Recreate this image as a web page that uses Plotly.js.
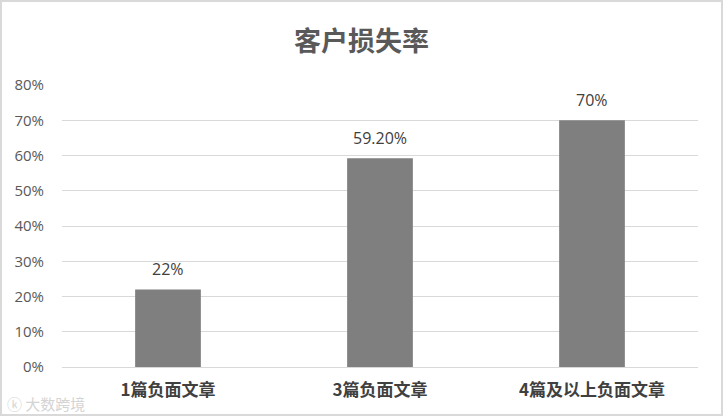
<!DOCTYPE html>
<html><head><meta charset="utf-8">
<script src="https://cdn.plot.ly/plotly-3.0.1.min.js"></script>
<style>
html,body{margin:0;padding:0;background:#fff;}
#wrap{position:relative;width:723px;height:416px;}
#chart{width:723px;height:416px;}
#frame{position:absolute;left:0;top:0;width:723px;height:416px;box-sizing:border-box;border:2px solid #d9d9d9;pointer-events:none;}
</style></head>
<body>
<div id="wrap"><div id="chart"></div><div id="frame"></div></div>
<script>
const categories = ["1篇负面文章", "3篇负面文章", "4篇及以上负面文章"];
const values = [0.22, 0.592, 0.70];
const labels = ["22%", "59.20%", "70%"];
const yTicks = [0, 0.1, 0.2, 0.3, 0.4, 0.5, 0.6, 0.7, 0.8];

const font = '"Noto Sans CJK SC", "Noto Sans", sans-serif';
const numFont = '"Open Sans", "Noto Sans", sans-serif';
const trace = {
  type: 'bar', x: categories, y: values,
  marker: {color: '#7f7f7f'},
  hoverinfo: 'none'
};
const valueAnnotations = categories.map((c, i) => ({
  x: c, y: values[i], xref: 'x', yref: 'y', text: labels[i], showarrow: false,
  yanchor: 'bottom', yshift: 7,
  font: {family: numFont, size: 16, color: '#404040'}
}));
const layout = {
  width: 723, height: 416,
  margin: {l: 62, r: 25, t: 85, b: 49},
  paper_bgcolor: '#fff', plot_bgcolor: '#fff',
  bargap: 0.69,
  showlegend: false,
  title: {text: '<b>客户损失率</b>', x: 0.5, xanchor: 'center', y: 0.9, yanchor: 'middle',
          font: {family: font, size: 27, color: '#595959'}},
  xaxis: {type: 'category', showgrid: false, zeroline: false, showline: false, ticks: '',
          tickfont: {family: font, size: 17, color: '#404040', weight: 'bold'}, ticklabelstandoff: 11},
  yaxis: {range: [0, 0.8], tickvals: yTicks, tickformat: '.0%', showgrid: true,
          gridcolor: '#d9d9d9', gridwidth: 1, zeroline: true, zerolinecolor: '#d9d9d9', zerolinewidth: 1,
          showline: false, ticks: '', ticklabelstandoff: 17,
          tickfont: {family: numFont, size: 15, color: '#595959'}},
  annotations: valueAnnotations.concat([{text: 'ⓚ 大数跨境', xref: 'paper', yref: 'paper', x: -0.09, y: -0.128,
                 xanchor: 'left', yanchor: 'middle', showarrow: false,
                 font: {family: font, size: 15, color: '#d4d4d4'}}])
};
Plotly.newPlot('chart', [trace], layout, {displayModeBar: false, staticPlot: true});
</script>
</body></html>
